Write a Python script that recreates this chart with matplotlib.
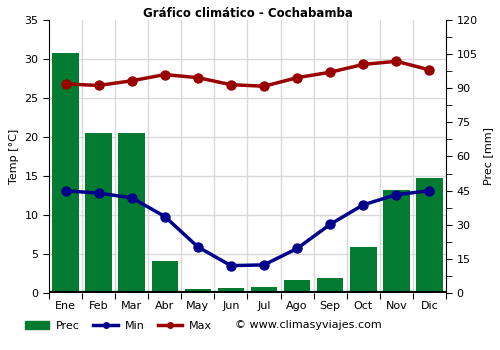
import matplotlib.pyplot as plt
from matplotlib.ticker import MultipleLocator
from matplotlib.patches import Patch
from matplotlib.lines import Line2D

months = ["Ene", "Feb", "Mar", "Abr", "May", "Jun", "Jul", "Ago", "Sep", "Oct", "Nov", "Dic"]
prec = [105.5, 70.3, 70.3, 14.0, 1.7, 2.2, 2.6, 5.7, 6.6, 20.2, 45.3, 50.5]
t_min = [13.1, 12.8, 12.2, 9.8, 5.9, 3.5, 3.6, 5.7, 8.8, 11.3, 12.6, 13.1]
t_max = [26.8, 26.6, 27.2, 28.0, 27.6, 26.7, 26.5, 27.6, 28.3, 29.3, 29.7, 28.6]

GREEN = "#037b30"
BLUE = "#00008b"
RED = "#990000"

fig = plt.figure(figsize=(5, 3.5), dpi=100)
ax = fig.add_axes([0.098, 0.163, 0.794, 0.78])
ax2 = ax.twinx()

x = list(range(len(months)))

# bars on the secondary axis, drawn behind the temperature lines
ax2.bar(x, prec, width=0.8, color=GREEN, zorder=2)
ax2.set_ylim(0, 120)
ax2.yaxis.set_major_locator(MultipleLocator(15))
ax2.yaxis.set_minor_locator(MultipleLocator(7.5))
ax2.set_ylabel("Prec [mm]", fontsize=8)
ax2.tick_params(axis="y", labelsize=8, length=4, which="both")

ax.set_zorder(ax2.get_zorder() + 1)
ax.patch.set_visible(False)

ax.plot(x, t_max, color=RED, lw=2.5, marker="o", ms=6.5, zorder=4)
ax.plot(x, t_min, color=BLUE, lw=2.5, marker="o", ms=6.5, zorder=4)
ax.set_ylim(0, 35)
ax.set_xlim(-0.5, 11.5)
ax.yaxis.set_major_locator(MultipleLocator(5))
ax.set_xticks([i - 0.5 for i in range(13)])
ax.set_xticklabels([])
ax.set_xticks(x, minor=True)
ax.set_xticklabels(months, minor=True, fontsize=8)
ax.tick_params(axis="x", which="minor", length=0, pad=6)
ax.tick_params(axis="x", which="major", length=4)
ax.tick_params(axis="y", labelsize=8, length=4)
ax.set_ylabel("Temp [°C]", fontsize=8)

# grid on the back axis so it stays behind bars
for yv in range(5, 35, 5):
    ax2.axhline(yv * 120 / 35, color="#d9d9d9", lw=1, zorder=0)
for xv in range(1, 12):
    ax2.axvline(xv - 0.5, color="#d9d9d9", lw=1, zorder=0)
ax.axhline(0, color="black", lw=3, zorder=1)

for a in (ax, ax2):
    a.spines["top"].set_visible(False)
    a.spines["bottom"].set_visible(False)
ax2.spines["left"].set_visible(False)
ax.spines["right"].set_visible(False)

ax.set_title("Gráfico climático - Cochabamba", fontsize=8.5, fontweight="bold", pad=2)

handles = [
    Patch(color=GREEN, label="Prec"),
    Line2D([], [], color=BLUE, lw=2.5, marker="o", ms=4, label="Min"),
    Line2D([], [], color=RED, lw=2.5, marker="o", ms=4, label="Max"),
]
fig.legend(handles=handles, loc="lower left", bbox_to_anchor=(0.03, 0.025), ncol=3,
           frameon=False, fontsize=8, handlelength=2.2, handletextpad=0.6,
           columnspacing=1.2)
fig.text(0.47, 0.072, "© www.climasyviajes.com", fontsize=8, va="center")

fig.savefig("out.png", dpi=100)
